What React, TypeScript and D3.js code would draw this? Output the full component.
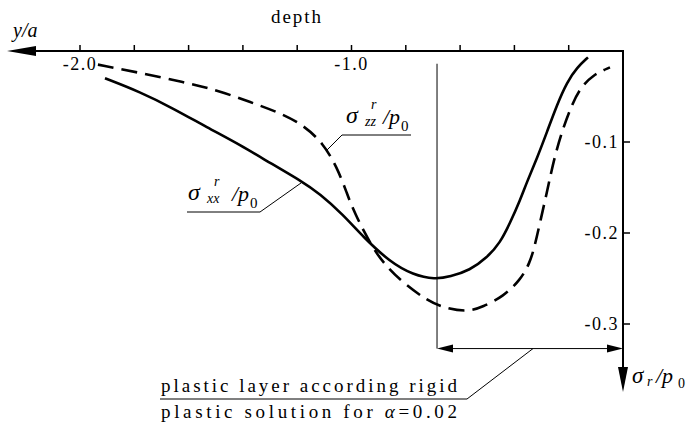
import React from "react"
import * as d3 from "d3"

// top axis: depth y/a, right axis: sigma_r / p0
const depthTicks = [-2.0, -1.8, -1.6, -1.4, -1.2, -1.0, -0.8, -0.6, -0.4, -0.2]
const depthLabels = [-2.0, -1.0]
const sigmaTicks = [-0.1, -0.2, -0.3]

// sigma_xx^r / p0 (solid)
const depthXX = [-1.908, -1.779, -1.657, -1.532, -1.411, -1.289, -1.190, -1.116, -1.031, -0.958, -0.858, -0.773, -0.692, -0.637, -0.564, -0.501, -0.453, -0.416, -0.379, -0.354, -0.317, -0.280, -0.243, -0.206, -0.169, -0.129]
const sigmaXX = [-0.030, -0.045, -0.063, -0.084, -0.103, -0.125, -0.142, -0.157, -0.180, -0.204, -0.232, -0.246, -0.251, -0.248, -0.241, -0.227, -0.211, -0.189, -0.164, -0.144, -0.118, -0.089, -0.059, -0.034, -0.018, -0.007]

// sigma_zz^r / p0 (dashed)
const depthZZ = [-1.934, -1.779, -1.621, -1.495, -1.374, -1.263, -1.179, -1.105, -1.053, -1.017, -0.994, -0.906, -0.810, -0.722, -0.663, -0.575, -0.516, -0.442, -0.379, -0.343, -0.324, -0.306, -0.287, -0.273, -0.250, -0.221, -0.188, -0.158, -0.110, -0.048]
const sigmaZZ = [-0.015, -0.024, -0.034, -0.043, -0.056, -0.068, -0.081, -0.101, -0.128, -0.156, -0.175, -0.227, -0.255, -0.274, -0.282, -0.287, -0.281, -0.270, -0.252, -0.233, -0.213, -0.189, -0.164, -0.145, -0.114, -0.085, -0.059, -0.041, -0.026, -0.018]

// plastic layer (rigid plastic solution, alpha = 0.02)
const plasticEdge = -0.685
const plasticTop = -0.014
const plasticDim = -0.327

const W = 689
const H = 426
const serif = "Liberation Serif, Times New Roman, serif"

export default function App() {
  const x = d3.scaleLinear().domain([-2.0, 0]).range([80, 623])
  const y = d3.scaleLinear().domain([0, -0.3]).range([51, 324])

  const x0 = x(0)
  const y0 = y(0)
  const yEnd = 392

  // basis smooths out the reading noise of the hand-traced points
  const ln = d3.line<[number, number]>()
    .x(d => x(d[0]))
    .y(d => y(d[1]))
    .curve(d3.curveBasis)

  const solidPath = ln(depthXX.map((d, i) => [d, sigmaXX[i]]))
  const dashPath = ln(depthZZ.map((d, i) => [d, sigmaZZ[i]]))

  const px = x(plasticEdge)
  const py = y(plasticDim)

  const it = { fontFamily: serif, fontStyle: "italic" as const }

  return (
    <svg width={W} height={H} style={{ position: "absolute", left: 0, top: 0, background: "#fff", fontFamily: serif }}>
      {/* top axis */}
      <line x1={30} y1={y0} x2={x0} y2={y0} stroke="#000" strokeWidth={2} />
      <path d={`M7,${y0} L36,${y0 - 5} L36,${y0 + 5} Z`} fill="#000" />
      {depthTicks.map(t => (
        <line key={t} x1={x(t)} x2={x(t)} y1={y0 - 6} y2={y0} stroke="#000" strokeWidth={1.5} />
      ))}
      {depthLabels.map(t => (
        <text key={t} x={x(t)} y={70} textAnchor="middle" style={{ fontFamily: serif }} fontSize={18} letterSpacing={1.5}>
          {t.toFixed(1)}
        </text>
      ))}
      <text x={297} y={23} textAnchor="middle" style={{ fontFamily: serif }} fontSize={19} letterSpacing={2}>depth</text>
      <text x={13} y={37} style={it} fontSize={20}>y/a</text>

      {/* right axis */}
      <line x1={x0} y1={y0 - 1} x2={x0} y2={yEnd - 20} stroke="#000" strokeWidth={2} />
      <path d={`M${x0},${yEnd} L${x0 - 5},${yEnd - 25} L${x0 + 5},${yEnd - 25} Z`} fill="#000" />
      {sigmaTicks.map(t => (
        <g key={t}>
          <line x1={x0} x2={x0 + 7} y1={y(t)} y2={y(t)} stroke="#000" strokeWidth={1.5} />
          <text x={x0 - 4} y={y(t) + 6} textAnchor="end" style={{ fontFamily: serif }} fontSize={18} letterSpacing={1.5}>
            {t.toFixed(1)}
          </text>
        </g>
      ))}
      <text x={632} y={383} style={it} fontSize={23}>σ</text>
      <text x={647} y={386} style={it} fontSize={14}>r</text>
      <text x={656} y={383} style={it} fontSize={22}>/p</text>
      <text x={678} y={388} style={{ fontFamily: serif }} fontSize={14}>0</text>

      {/* curves */}
      <path d={solidPath ?? ""} fill="none" stroke="#000" strokeWidth={2.6} />
      <path d={dashPath ?? ""} fill="none" stroke="#000" strokeWidth={2.6} strokeDasharray="16 8" />

      {/* plastic layer marker */}
      <line x1={px} x2={px} y1={y(plasticTop)} y2={py} stroke="#000" strokeWidth={1} />
      <line x1={px + 10} x2={x0 - 10} y1={py} y2={py} stroke="#000" strokeWidth={1} />
      <path d={`M${px},${py} L${px + 16},${py - 4} L${px + 16},${py + 4} Z`} fill="#000" />
      <path d={`M${x0},${py} L${x0 - 16},${py - 4} L${x0 - 16},${py + 4} Z`} fill="#000" />
      <polyline points={`533,${py} 467,399 160,399`} fill="none" stroke="#000" strokeWidth={1} />
      <text x={161} y={392} style={{ fontFamily: serif }} fontSize={19} textLength={296} lengthAdjust="spacing">
        plastic layer according rigid
      </text>
      <text x={161} y={418} style={{ fontFamily: serif }} fontSize={19} textLength={296} lengthAdjust="spacing">
        plastic solution for <tspan fontStyle="italic">α</tspan>=0.02
      </text>

      {/* sigma_zz label */}
      <polyline points="327,150 342,135 411,135" fill="none" stroke="#000" strokeWidth={1} />
      <text x={346} y={123} style={it} fontSize={24}>σ</text>
      <text x={365} y={126} style={it} fontSize={14}>zz</text>
      <text x={371} y={109} style={it} fontSize={14}>r</text>
      <text x={383} y={124} style={it} fontSize={22}>/p</text>
      <text x={401} y={131} style={{ fontFamily: serif }} fontSize={15}>0</text>

      {/* sigma_xx label */}
      <polyline points="301,183 260,212 187,212" fill="none" stroke="#000" strokeWidth={1} />
      <text x={188} y={200} style={it} fontSize={24}>σ</text>
      <text x={207} y={203} style={it} fontSize={14}>xx</text>
      <text x={214} y={186} style={it} fontSize={14}>r</text>
      <text x={232} y={201} style={it} fontSize={22}>/p</text>
      <text x={250} y={208} style={{ fontFamily: serif }} fontSize={15}>0</text>
    </svg>
  )
}
